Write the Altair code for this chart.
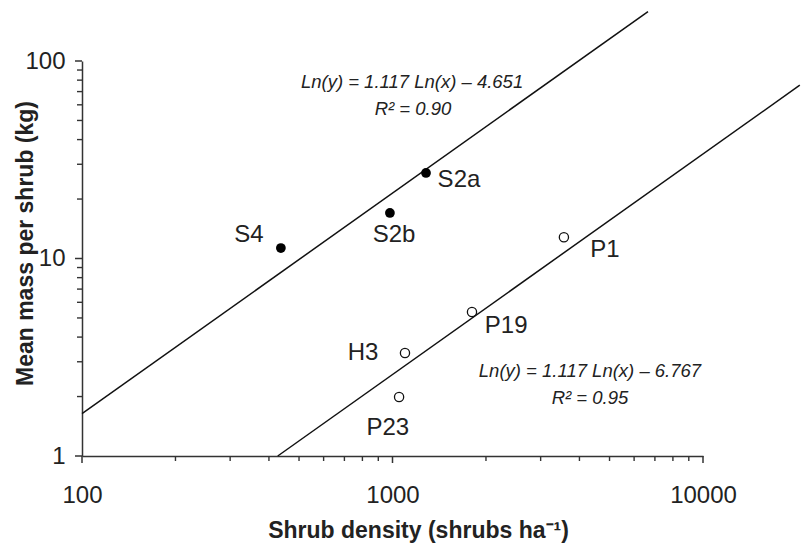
import altair as alt
import pandas as pd

# --- data ---
site = ["S4", "S2b", "S2a", "P1", "P19", "H3", "P23"]
density = [437, 981, 1282, 3565, 1803, 1097, 1050]
mass = [11.3, 17.0, 27.1, 12.8, 5.36, 3.32, 1.99]
group = ["filled", "filled", "filled", "open", "open", "open", "open"]
label_x = [345, 1012, 1637, 4830, 2323, 804, 966]
label_y = [12.1, 12.1, 23.0, 10.2, 4.2, 3.06, 1.28]

line_id = ["upper", "upper", "lower", "lower"]
line_x = [100, 6650, 427, 20500]
line_y = [1.637, 178, 1.0, 75.4]

eq_text = ["Ln(y) = 1.117 Ln(x) \u2013 4.651", "R\u00b2 = 0.90",
           "Ln(y) = 1.117 Ln(x) \u2013 6.767", "R\u00b2 = 0.95"]
eq_x = [1156, 1164, 4325, 4325]
eq_y = [73.0, 53.3, 2.51, 1.83]

x_major = [100, 1000, 10000]
x_minor = [200, 300, 400, 500, 600, 700, 800, 900,
           2000, 3000, 4000, 5000, 6000, 7000, 8000, 9000]
y_major = [1, 10, 100]
y_minor = [2, 3, 4, 5, 6, 7, 8, 9, 20, 30, 40, 50, 60, 70, 80, 90]

pts = pd.DataFrame({"site": site, "x": density, "y": mass, "group": group,
                    "lx": label_x, "ly": label_y})
lines = pd.DataFrame({"id": line_id, "x": line_x, "y": line_y})
eqs = pd.DataFrame({"t": eq_text, "x": eq_x, "y": eq_y})
xmaj = pd.DataFrame({"v": x_major})
xmin = pd.DataFrame({"v": x_minor})
ymaj = pd.DataFrame({"v": y_major})
ymin = pd.DataFrame({"v": y_minor})

FONT = "Liberation Sans"
INK = "#222222"
AXC = "#333333"
H = 395

xscale = alt.Scale(type="log", domain=[100, 10000], nice=False)
yscale = alt.Scale(type="log", domain=[1, 100], nice=False)

xaxis = alt.Axis(
    orient="bottom", values=x_major, format="d", ticks=False,
    labelOverlap=False, labelFlush=False, grid=False,
    labelFont=FONT, labelFontSize=24, labelColor=INK, labelPadding=27,
    domainColor=AXC, domainWidth=1.5,
    title="Shrub density (shrubs ha\u207b\u00b9)", titleFont=FONT, titleFontSize=23,
    titleFontWeight="bold", titleColor=INK, titleX=336, titleY=81,
    titleBaseline="alphabetic", titleAlign="center",
)
yaxis = alt.Axis(
    orient="left", values=y_major, format="d", ticks=False,
    labelOverlap=False, labelFlush=False, grid=False,
    labelFont=FONT, labelFontSize=24, labelColor=INK, labelPadding=17,
    domainColor=AXC, domainWidth=1.5,
    title="Mean mass per shrub (kg)", titleFont=FONT, titleFontSize=23,
    titleFontWeight="bold", titleColor=INK, titleX=-57, titleY=182,
    titleBaseline="middle", titleAlign="center", titleAngle=270,
)

line_layer = alt.Chart(lines).mark_line(color="#111111", strokeWidth=1.5, clip=False).encode(
    x=alt.X("x:Q", scale=xscale, axis=xaxis),
    y=alt.Y("y:Q", scale=yscale, axis=yaxis),
    detail="id:N",
)

# axis tick marks drawn from the tick-value arrays
xt_major = alt.Chart(xmaj).mark_rule(color=AXC, strokeWidth=1.5).encode(
    x=alt.X("v:Q", scale=xscale), y=alt.value(H), y2=alt.value(H + 7))
xt_minor = alt.Chart(xmin).mark_rule(color=AXC, strokeWidth=1.4).encode(
    x=alt.X("v:Q", scale=xscale), y=alt.value(H), y2=alt.value(H + 5))
yt_major = alt.Chart(ymaj).mark_rule(color=AXC, strokeWidth=1.5).encode(
    y=alt.Y("v:Q", scale=yscale), x=alt.value(0), x2=alt.value(-7))
yt_minor = alt.Chart(ymin).mark_rule(color=AXC, strokeWidth=1.4).encode(
    y=alt.Y("v:Q", scale=yscale), x=alt.value(0), x2=alt.value(-5))

filled = alt.Chart(pts).transform_filter("datum.group == 'filled'").mark_point(
    shape="circle", filled=True, color="#000000", size=95, opacity=1
).encode(x=alt.X("x:Q", scale=xscale), y=alt.Y("y:Q", scale=yscale))

opened = alt.Chart(pts).transform_filter("datum.group == 'open'").mark_point(
    shape="circle", filled=False, color="#111111", size=85, strokeWidth=1.3, opacity=1
).encode(x=alt.X("x:Q", scale=xscale), y=alt.Y("y:Q", scale=yscale))

labels = alt.Chart(pts).mark_text(
    font=FONT, fontSize=24, color=INK, align="center", baseline="alphabetic"
).encode(x=alt.X("lx:Q", scale=xscale), y=alt.Y("ly:Q", scale=yscale), text="site:N")

eq_layer = alt.Chart(eqs).mark_text(
    font=FONT, fontSize=18.5, fontStyle="italic", color=INK,
    align="center", baseline="alphabetic"
).encode(x=alt.X("x:Q", scale=xscale), y=alt.Y("y:Q", scale=yscale), text="t:N")

chart = alt.layer(
    line_layer, xt_major, xt_minor, yt_major, yt_minor, filled, opened, labels, eq_layer
).properties(
    width=621, height=H,
    padding={"left": 82, "top": 61, "right": 98, "bottom": 91},
    autosize=alt.AutoSizeParams(type="none"),
    background="white",
).configure_view(stroke=None)

chart.save("out.html", embed_options={"renderer": "svg", "actions": False})
